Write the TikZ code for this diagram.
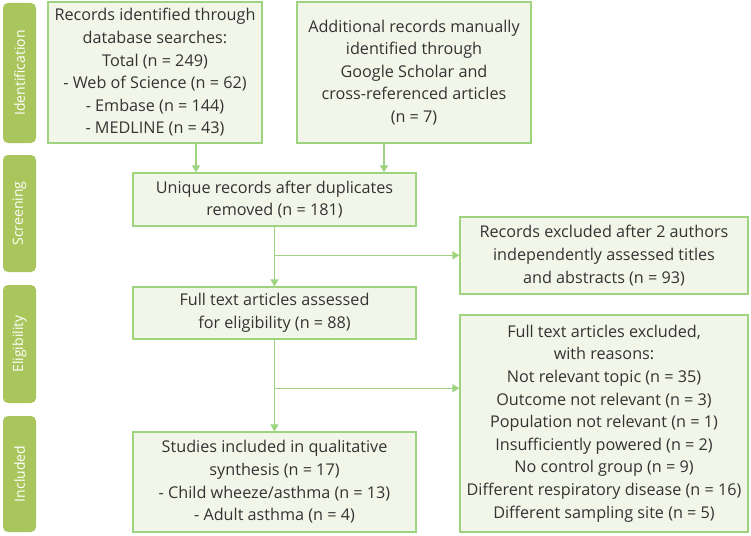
\documentclass[tikz,border=0pt]{standalone}
\usepackage{fontspec}
\setmainfont{Open Sans}
\usetikzlibrary{arrows.meta,calc}
\definecolor{boxfill}{HTML}{F2F6E8}
\definecolor{boxline}{HTML}{9ED47F}
\definecolor{tabfill}{HTML}{A9C65C}
\definecolor{txtgray}{HTML}{333333}

\begin{document}
\begin{tikzpicture}[x=1pt,y=-1pt,
  box/.style={draw=boxline,line width=1.2pt,fill=boxfill,text=txtgray,align=center,
    inner sep=0pt,font=\fontsize{16.2}{22.6}\selectfont},
  tab/.style={fill=tabfill,rounded corners=5pt,text=white,rotate=90,inner sep=0pt,
    minimum height=33pt,font=\fontsize{14}{16}\selectfont},
  link/.style={draw=boxline,line width=1.3pt,-{Triangle[width=8pt,length=7pt]}}]
  \useasboundingbox[fill=white] (0,0) rectangle (751,535);

  \node[tab,minimum width=140pt] (tid) at (19.5,73) {Identification};
  \node[tab,minimum width=117pt] (tsc) at (19.5,213.5) {Screening};
  \node[tab,minimum width=118pt] (tel) at (19.5,344) {Eligibility};
  \node[tab,minimum width=116pt] (tin) at (19.5,474) {Included};

  \node[box,minimum width=214pt,minimum height=141pt] (db) at (155,72.5)
    {Records identified through\\database searches:\\Total (n = 249)\\- Web of Science (n = 62)\\- Embase (n = 144)\\- MEDLINE (n = 43)};
  \node[box,minimum width=234pt,minimum height=141pt] (extra) at (414,72.5)
    {Additional records manually\\identified through\\Google Scholar and\\cross-referenced articles\\(n = 7)};
  \node[box,minimum width=283pt,minimum height=53pt] (unique) at (274.5,199.5)
    {Unique records after duplicates\\removed (n = 181)};
  \node[box,minimum width=288pt,minimum height=77pt] (excl1) at (604,255.5)
    {Records excluded after 2 authors\\independently assessed titles\\and abstracts (n = 93)};
  \node[box,minimum width=283pt,minimum height=52pt] (fulltext) at (274.5,313)
    {Full text articles assessed\\for eligibility (n = 88)};
  \node[box,minimum width=288pt,minimum height=217pt] (excl2) at (604,423.5)
    {Full text articles excluded,\\with reasons:\\Not relevant topic (n = 35)\\Outcome not relevant (n = 3)\\Population not relevant (n = 1)\\Insufficiently powered (n = 2)\\No control group (n = 9)\\Different respiratory disease (n = 16)\\Different sampling site (n = 5)};
  \node[box,minimum width=283pt,minimum height=100pt] (incl) at (274.5,482)
    {Studies included in qualitative\\synthesis (n = 17)\\- Child wheeze/asthma (n = 13)\\- Adult asthma (n = 4)};

  \draw[link] ([xshift=41pt]db.south) -- ([xshift=41pt]db.south |- unique.north);
  \draw[link] ([xshift=-30pt]extra.south) -- ([xshift=-30pt]extra.south |- unique.north);
  \coordinate (j1) at ($(unique.south)!0.48!(fulltext.north)$);
  \coordinate (j2) at ($(fulltext.south)!0.53!(incl.north)$);
  \draw[link] (unique.south) -- (fulltext.north);
  \draw[link] (j1) -- (j1 -| excl1.west);
  \draw[link] (fulltext.south) -- (incl.north);
  \draw[link] (j2) -- (j2 -| excl2.west);
\end{tikzpicture}
\end{document}
